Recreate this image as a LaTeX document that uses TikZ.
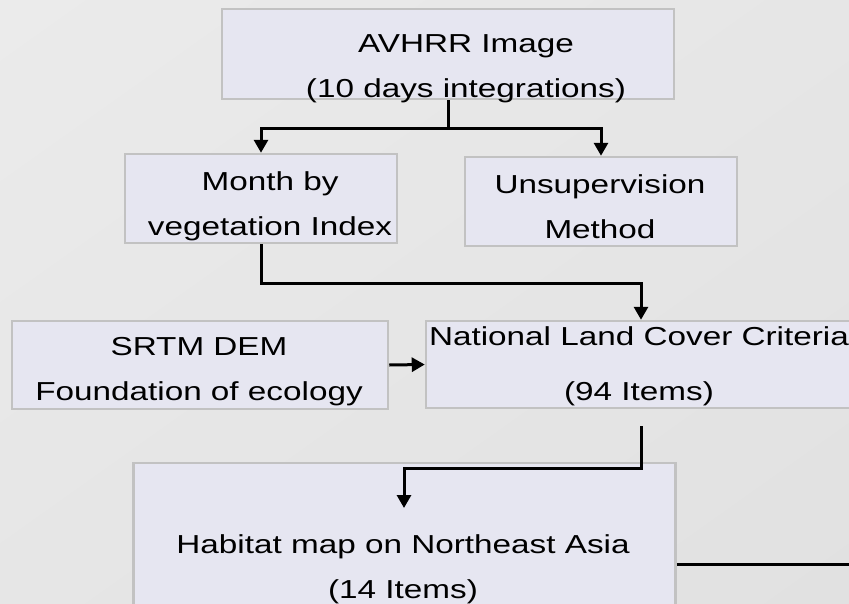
\documentclass[tikz,border=0pt]{standalone}
\usepackage{fontspec}
\setmainfont[FakeStretch=1.28]{Liberation Sans}
\usetikzlibrary{arrows.meta,positioning,calc,shadings}
\definecolor{boxfill}{HTML}{E6E6F1}
\definecolor{boxline}{HTML}{C2C2C2}
\definecolor{bgtl}{HTML}{EBEBEB}
\definecolor{bgbr}{HTML}{E1E1E1}
\definecolor{bgmid}{HTML}{E6E6E6}

\begin{document}
\begin{tikzpicture}[x=1pt,y=-1pt,>={Triangle[length=13pt,width=14pt]},
  panel/.style={draw=boxline,line width=2.5pt,fill=boxfill,inner sep=0pt},
  caption/.style={align=center,anchor=base,inner sep=0pt,
    font=\fontsize{26}{45}\selectfont},
  flow/.style={->,line width=3pt}]
\useasboundingbox (0,0) rectangle (849,603);
\clip (0,0) rectangle (849,603);
\shade[upper left=bgtl,upper right=bgmid,lower left=bgmid,lower right=bgbr]
  (0,0) rectangle (849,603);

% boxes
\node[panel,minimum width=452pt,minimum height=90pt] (avhrr) at (448,54) {};
\node[panel,minimum width=272pt,minimum height=89pt] (month) at (261,198.5) {};
\node[panel,minimum width=272pt,minimum height=89pt] (unsup) at (601,201.5) {};
\node[panel,minimum width=376pt,minimum height=88pt] (srtm) at (200,365) {};
\node[panel,minimum width=430pt,minimum height=87pt] (landcov) at (641,364.5) {};
\node[panel,minimum width=542pt,minimum height=164pt] (habitat) at (404.5,545) {};

% texts (placed by the baseline of the last line)
\node[caption] (avhrr-t) at (466,97) {AVHRR Image\\(10 days integrations)};
\node[caption] (month-t) at (270,235) {Month by\\vegetation Index};
\node[caption] (unsup-t) at (600,238) {Unsupervision\\Method};
\node[caption] (srtm-t) at (199,400) {SRTM DEM\\Foundation of ecology};
\node[caption] (landcov-t) at (639,400) {National Land Cover Criteria\\[10pt](94 Items)};
\node[caption] (habitat-t) at (403,598) {Habitat map on Northeast Asia\\(14 Items)};

% connectors
\coordinate (habtip) at (404,508);
\coordinate (offright) at (860,564);
\draw[flow] (avhrr.south) -- ++(0,28) -| (month.north);
\draw[flow] (avhrr.south) -- ++(0,28) -| (unsup.north);
\draw[flow] (month.south) -- ++(0,39) -| (landcov.north);
\draw[flow] (srtm.east) -- (landcov.west);
\draw[flow] ([yshift=-17pt]landcov.south) -- ++(0,42) -| (habtip);
\draw[line width=3pt] (habitat.east |- offright) -- (offright);
\end{tikzpicture}
\end{document}
